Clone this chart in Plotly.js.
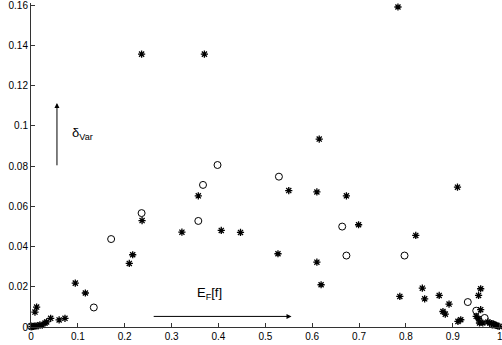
<!DOCTYPE html>
<html>
<head>
<meta charset="utf-8">
<script src="https://cdn.plot.ly/plotly-3.0.1.min.js"></script>
<style>html,body{margin:0;padding:0;background:#fff;}#chart{width:502px;height:345px;}</style>
</head>
<body>
<div id="chart"></div>
<script>
// Asterisk series
const starX = [0.237, 0.217, 0.2097, 0.0945, 0.116, 0.012, 0.0085, 0.0725, 0.060, 0.042, 0.0334, 0.030, 0.019,
  0.002, 0.005, 0.008, 0.011, 0.015, 0.024,
  0.236, 0.370, 0.357, 0.550, 0.610, 0.615, 0.322, 0.406, 0.447, 0.527, 0.610, 0.619,
  0.673, 0.910, 0.699, 0.783, 0.821, 0.835, 0.787, 0.840, 0.871, 0.892, 0.879, 0.884,
  0.911, 0.917, 0.9595, 0.955, 0.9595, 0.950, 0.955, 0.957, 0.964,
  0.975, 0.979, 0.983, 0.987, 0.990, 0.993, 0.996, 0.999];
const starY = [0.0529, 0.0359, 0.0316, 0.0218, 0.0169, 0.0099, 0.0074, 0.0043, 0.0035, 0.0043, 0.0025, 0.0020, 0.0011,
  0.0002, 0.0003, 0.0004, 0.0005, 0.0006, 0.0009,
  0.1356, 0.1356, 0.0652, 0.0678, 0.0671, 0.0934, 0.0471, 0.0480, 0.0470, 0.0364, 0.0322, 0.0210,
  0.0652, 0.0695, 0.0508, 0.1590, 0.0455, 0.0193, 0.0152, 0.0140, 0.0157, 0.0114, 0.0077, 0.0064,
  0.0028, 0.0036, 0.0190, 0.0157, 0.0086, 0.0053, 0.0041, 0.0020, 0.0020,
  0.0025, 0.0020, 0.0017, 0.0014, 0.0010, 0.0008, 0.0005, 0.0003];
// Open circle series
const circX = [0.171, 0.134, 0.236, 0.398, 0.367, 0.357, 0.529, 0.664, 0.673, 0.797, 0.932, 0.950, 0.968, 0.0, 0.985];
const circY = [0.0437, 0.0097, 0.0566, 0.0805, 0.0706, 0.0527, 0.0747, 0.0499, 0.0355, 0.0355, 0.0124, 0.0081, 0.0045, 0.0003, 0.0012];
// Tick labels
const xTicks = [0, 0.1, 0.2, 0.3, 0.4, 0.5, 0.6, 0.7, 0.8, 0.9, 1];
const xTickText = ['0', '0.1', '0.2', '0.3', '0.4', '0.5', '0.6', '0.7', '0.8', '0.9', '1'];
const yTicks = [0, 0.02, 0.04, 0.06, 0.08, 0.1, 0.12, 0.14, 0.16];
const yTickText = ['0', '0.02', '0.04', '0.06', '0.08', '0.1', '0.12', '0.14', '0.16'];

const fnt = 'Liberation Sans, Arial, Helvetica, sans-serif';

const traces = [
  {x: starX, y: starY, type: 'scatter', mode: 'markers', cliponaxis: false,
   marker: {symbol: 'asterisk-open', size: 6, color: '#000', line: {color: '#000', width: 1.3}}},
  {x: circX, y: circY, type: 'scatter', mode: 'markers', cliponaxis: false,
   marker: {symbol: 'circle-open', size: 7, color: '#000', line: {color: '#000', width: 1}}}
];

const layout = {
  width: 502, height: 345,
  margin: {l: 31, r: 0, t: 3, b: 18},
  paper_bgcolor: '#fff', plot_bgcolor: '#fff',
  showlegend: false,
  font: {family: fnt, size: 10, color: '#000'},
  xaxis: {range: [0, 1.005], tickvals: xTicks, ticktext: xTickText, showgrid: false, zeroline: false,
    showline: true, linecolor: '#333', linewidth: 1, ticks: 'inside', ticklen: 4, tickcolor: '#333',
    ticklabeloverflow: 'allow',
    tickfont: {family: fnt, size: 10, color: '#000'}, fixedrange: true},
  yaxis: {range: [0, 0.161], tickvals: yTicks, ticktext: yTickText, showgrid: false, zeroline: false,
    showline: true, linecolor: '#333', linewidth: 1, ticks: 'inside', ticklen: 4, tickcolor: '#333',
    ticklabeloverflow: 'allow',
    tickfont: {family: fnt, size: 10, color: '#000'}, fixedrange: true},
  annotations: [
    {x: 0.0554, y: 0.1113, ax: 0.0554, ay: 0.0796, xref: 'x', yref: 'y', axref: 'x', ayref: 'y',
     text: '', showarrow: true, arrowhead: 2, arrowsize: 1, arrowwidth: 1, arrowcolor: '#000'},
    {x: 0.5559, y: 0.00526, ax: 0.2586, ay: 0.00526, xref: 'x', yref: 'y', axref: 'x', ayref: 'y',
     text: '', showarrow: true, arrowhead: 2, arrowsize: 1, arrowwidth: 1, arrowcolor: '#000'},
    {x: 0.083, y: 0.0964, xref: 'x', yref: 'y', xanchor: 'left', yanchor: 'middle', showarrow: false,
     text: 'δ<sub>Var</sub>', font: {family: fnt, size: 13, color: '#000'}},
    {x: 0.349, y: 0.0165, xref: 'x', yref: 'y', xanchor: 'left', yanchor: 'middle', showarrow: false,
     text: 'E<sub>F</sub>[f]', font: {family: fnt, size: 13, color: '#000'}}
  ]
};

Plotly.newPlot('chart', traces, layout, {displayModeBar: false, staticPlot: true});
</script>
</body>
</html>
